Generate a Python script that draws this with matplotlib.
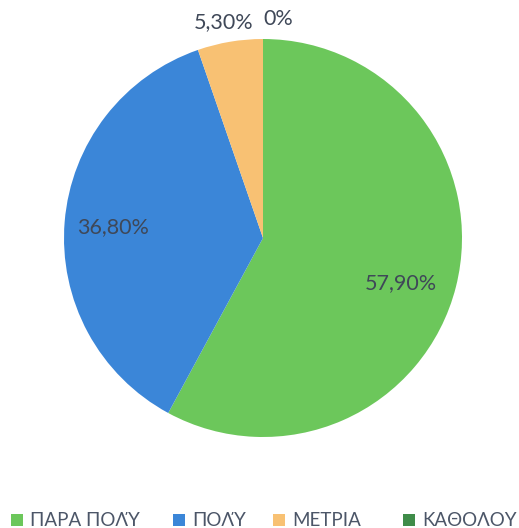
import numpy as np
import matplotlib
matplotlib.use("Agg")
import matplotlib.pyplot as plt
from matplotlib.patches import Rectangle

categories = ["ΠΑΡΑ ΠΟΛΎ", "ΠΟΛΎ", "ΜΕΤΡΙΑ", "ΚΑΘΟΛΟΥ"]
values = [57.9, 36.8, 5.3, 0.0]
value_labels = ["57,90%", "36,80%", "5,30%", "0%"]
colors = ["#6cc75b", "#3b86d8", "#f8c173", "#3f8c49"]

W, H = 519, 528
fig = plt.figure(figsize=(W / 100, H / 100), dpi=100)
fig.patch.set_facecolor("white")

# square axes holding the pie
cx, cy, R = 263, 238, 199
ax = fig.add_axes([(cx - R) / W, (H - cy - R) / H, 2 * R / W, 2 * R / H])

wedges, _ = ax.pie(values, colors=colors, startangle=90, counterclock=False,
                   radius=1.0, wedgeprops=dict(linewidth=0))
ax.set_xlim(-1, 1)
ax.set_ylim(-1, 1)
ax.axis("off")

txt_color = "#3f4858"
font = ["Lato", "DejaVu Sans"]
# label nudges in points (x, y)
nudges = [(-2, -7), (-4, -1), (-2, 0), (0, 0)]
for i, (w, lab) in enumerate(zip(wedges, value_labels)):
    mid = np.deg2rad((w.theta1 + w.theta2) / 2)
    r = 0.73 if values[i] >= 10 else 1.10
    x, y = r * np.cos(mid), r * np.sin(mid)
    ha = "left" if values[i] == 0 else "center"
    ax.annotate(lab, (x, y), xytext=nudges[i], textcoords="offset points",
                ha=ha, va="center", fontsize=15.5, color=txt_color,
                family=font, annotation_clip=False)

# legend row along the bottom
leg_x = [11, 173, 273, 403]
leg_y = 520
sq = 12
for xk, c, name in zip(leg_x, colors, categories):
    fig.patches.append(Rectangle((xk / W, (H - leg_y - sq / 2) / H), sq / W, sq / H,
                                 transform=fig.transFigure, facecolor=c,
                                 edgecolor="none"))
    fig.text((xk + sq + 7) / W, (H - leg_y) / H, name, ha="left", va="center",
             fontsize=13.5, color="#4c5668", family=font)

fig.savefig("out.png", dpi=100, facecolor="white")
